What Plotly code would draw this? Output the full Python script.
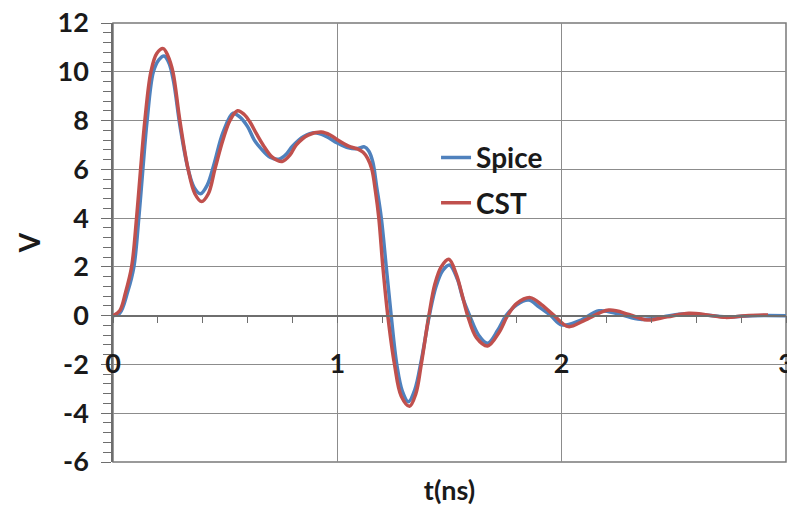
import plotly.graph_objects as go

# ---- data ----
spice_t = [0, 0.03, 0.066, 0.093, 0.115, 0.133, 0.152, 0.18, 0.205, 0.228, 0.25, 0.27, 0.30,
           0.335, 0.362, 0.39, 0.42, 0.45, 0.49, 0.535, 0.565, 0.60, 0.63, 0.66, 0.70, 0.74,
           0.775, 0.80, 0.85, 0.90, 0.95, 1.00, 1.05, 1.09, 1.121, 1.14, 1.158, 1.175, 1.196,
           1.218, 1.24, 1.265, 1.29, 1.317, 1.345, 1.375, 1.41, 1.44, 1.47, 1.50, 1.535, 1.56,
           1.59, 1.63, 1.67, 1.715, 1.752, 1.80, 1.853, 1.90, 1.952, 2.00, 2.08, 2.167, 2.26,
           2.35, 2.45, 2.55, 2.65, 2.75, 2.85, 3.0]
spice_v = [0, 0.1, 1.0, 2.0, 4.0, 6.0, 8.0, 10.0, 10.5, 10.65, 10.35, 9.6, 7.7,
           6.0, 5.25, 5.0, 5.35, 6.2, 7.5, 8.3, 8.15, 7.75, 7.2, 6.85, 6.5, 6.42,
           6.65, 6.95, 7.35, 7.5, 7.35, 7.08, 6.88, 6.85, 6.92, 6.75, 6.3, 5.3, 4.0,
           2.0, 0.0, -2.0, -3.1, -3.53, -3.05, -1.8, 0.0, 1.2, 1.85, 2.08, 1.5, 0.7,
           0.0, -0.8, -1.13, -0.6, 0.0, 0.45, 0.64, 0.35, 0.0, -0.38, -0.2, 0.2, 0.05,
           -0.15, -0.05, 0.08, 0.02, -0.05, 0.0, 0.0]

cst_t = [0, 0.03, 0.056, 0.083, 0.105, 0.123, 0.142, 0.169, 0.195, 0.224, 0.245, 0.267, 0.298,
         0.335, 0.365, 0.395, 0.425, 0.454, 0.49, 0.521, 0.555, 0.585, 0.61, 0.64, 0.669, 0.71,
         0.754, 0.79, 0.817, 0.87, 0.929, 0.97, 1.00, 1.05, 1.092, 1.115, 1.135, 1.154, 1.17,
         1.185, 1.203, 1.225, 1.255, 1.285, 1.322, 1.35, 1.374, 1.408, 1.435, 1.463, 1.497,
         1.53, 1.555, 1.581, 1.62, 1.67, 1.72, 1.759, 1.80, 1.86, 1.91, 1.967, 2.03, 2.10,
         2.21, 2.30, 2.38, 2.47, 2.567, 2.65, 2.73, 2.82, 2.92]
cst_v = [0, 0.2, 0.95, 2.0, 4.0, 6.0, 8.0, 10.0, 10.75, 10.95, 10.65, 10.0, 8.0,
         6.0, 5.0, 4.68, 5.0, 6.0, 7.2, 8.0, 8.4, 8.25, 7.95, 7.45, 7.0, 6.5,
         6.32, 6.6, 7.0, 7.4, 7.53, 7.4, 7.21, 6.95, 6.83, 6.7, 6.45, 6.0, 5.1,
         4.0, 2.0, 0.0, -2.0, -3.3, -3.71, -3.2, -2.0, 0.0, 1.3, 2.0, 2.31,
         1.7, 0.9, 0.0, -0.9, -1.24, -0.7, 0.0, 0.5, 0.74, 0.45, 0.0, -0.45, -0.2,
         0.23, 0.05, -0.18, -0.05, 0.1, 0.03, -0.07, 0.0, 0.03]

y_tickvals = [-6, -4, -2, 0, 2, 4, 6, 8, 10, 12]
y_ticktext = ["-6", "-4", "-2", "0", "2", "4", "6", "8", "10", "12"]
x_tickvals = [0, 1, 2, 3]
x_ticktext = ["0", "1", "2", "3"]

FONT = "Lato"
GRID = "#8c8c8c"
AXC = "#6e6e6e"
TXT = "#1a1a1a"
tick_font = dict(family=FONT, size=27, color=TXT, weight="bold")

fig = go.Figure()
fig.add_trace(go.Scatter(x=spice_t, y=spice_v, mode="lines", name="Spice",
                         line=dict(color="#4F81BD", width=3.5, shape="spline", smoothing=1.0),
                         legendgroup="a"))
fig.add_trace(go.Scatter(x=cst_t, y=cst_v, mode="lines", name="CST",
                         line=dict(color="#C0504D", width=3.5, shape="spline", smoothing=1.0),
                         legendgroup="b"))
# empty traces so the overlay axes (axis line at V=0, and tick labels) get drawn
fig.add_trace(go.Scatter(x=[None], y=[None], xaxis="x2", mode="lines",
                         showlegend=False, hoverinfo="skip"))
fig.add_trace(go.Scatter(x=[None], y=[None], xaxis="x3", mode="lines",
                         showlegend=False, hoverinfo="skip"))

fig.update_layout(
    width=787, height=506, autosize=False,
    margin=dict(l=113, r=1, t=23, b=44, autoexpand=False),
    paper_bgcolor="white", plot_bgcolor="white",
    showlegend=True,
    legend=dict(x=0.48, y=0.75, xanchor="left", yanchor="top",
                bgcolor="rgba(0,0,0,0)", itemwidth=30, tracegroupgap=6,
                traceorder="grouped",
                font=dict(family=FONT, size=28, color=TXT, weight="bold")),
    xaxis=dict(range=[0, 3], tickvals=x_tickvals, showgrid=True, gridcolor=GRID, gridwidth=1.3,
               showticklabels=False, ticks="", showline=False, zeroline=False, automargin=False,
               title=dict(text="t(ns)", standoff=19,
                          font=dict(family=FONT, size=27, color=TXT, weight="bold"))),
    xaxis2=dict(range=[0, 3], overlaying="x", anchor="free", position=1/3,
                showgrid=False, zeroline=False, showline=True, linecolor=AXC, linewidth=1.5,
                ticks="outside", dtick=0.2, tick0=0, ticklen=7, tickcolor=AXC, tickwidth=1.3,
                showticklabels=False, automargin=False),
    xaxis3=dict(range=[0, 3], overlaying="x", anchor="free", position=0.266,
                showgrid=False, zeroline=False, showline=False, ticks="",
                tickvals=x_tickvals, ticktext=x_ticktext, tickfont=tick_font, automargin=False,
                ticklabeloverflow="allow"),
    yaxis=dict(range=[-6, 12], tickvals=y_tickvals, ticktext=y_ticktext,
               showgrid=True, gridcolor=GRID, gridwidth=1.3, zeroline=False,
               showline=True, linecolor=AXC, linewidth=1.5,
               ticks="outside", ticklen=10, tickcolor=AXC, tickwidth=1.3,
               minor=dict(dtick=0.4, tick0=0, ticks="outside", ticklen=8,
                          tickcolor=AXC, tickwidth=1.2, showgrid=False),
               ticklabelstandoff=7, tickfont=tick_font, automargin=False,
               title=dict(text="V", standoff=9,
                          font=dict(family=FONT, size=28, color=TXT, weight="bold"))),
)

fig.add_shape(type="rect", xref="paper", yref="paper", x0=0, y0=0, x1=1, y1=1,
              line=dict(color="#7a7a7a", width=1.5), layer="between")

post = ("document.body.style.margin='0';"
        "document.body.style.padding='0';"
        "document.body.style.overflow='hidden';"
        "Plotly.relayout(document.getElementById('{plot_id}'), {width: 787, height: 506});")

fig.write_html("out.html", config={"responsive": False, "displayModeBar": False},
               post_script=post)
